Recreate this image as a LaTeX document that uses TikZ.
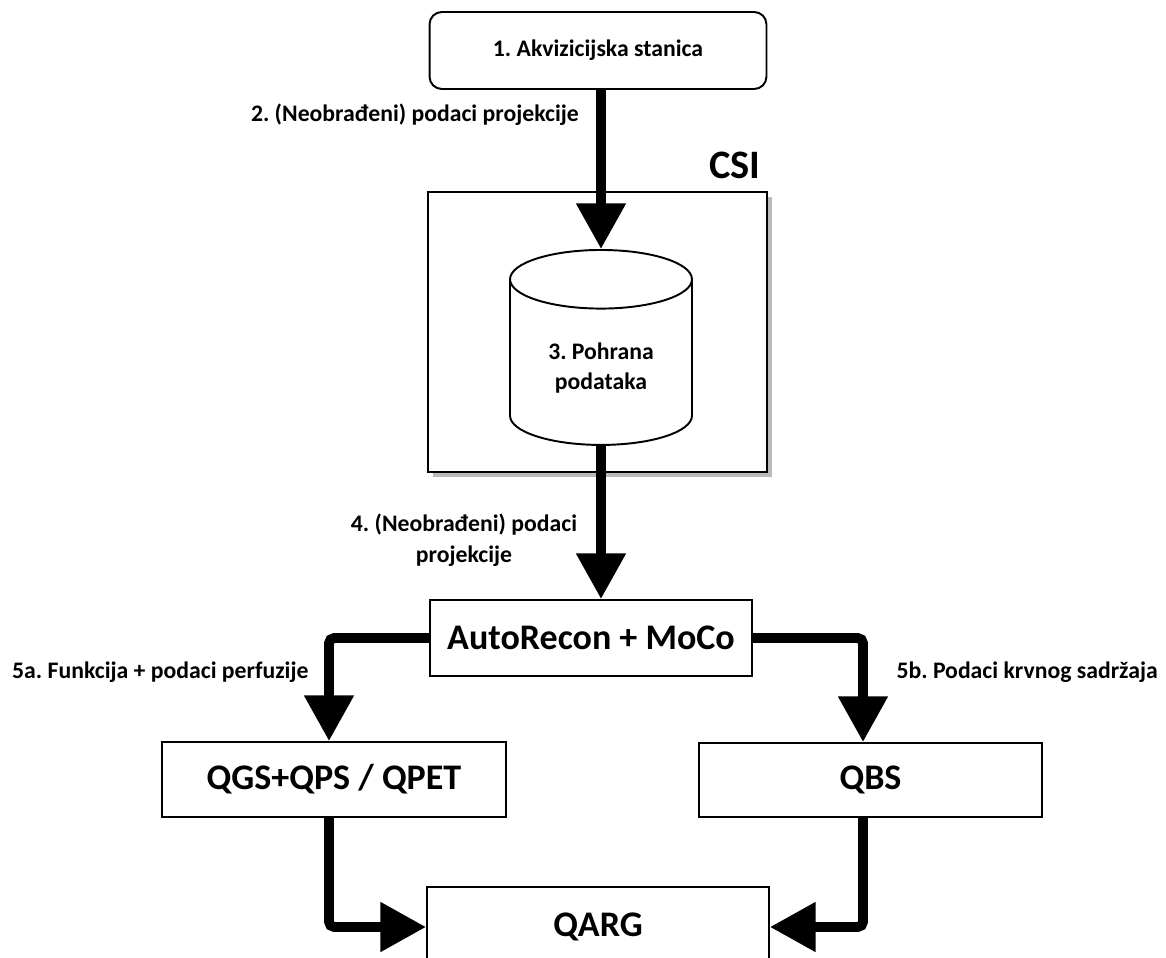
\documentclass[tikz,border=0pt]{standalone}
\usepackage{fontspec}
\setmainfont{Carlito}
\usetikzlibrary{shapes.geometric,arrows.meta,shadows}
\frenchspacing
\begin{document}
\begin{tikzpicture}[
    x=0.02cm, y=-0.02cm,
    stage/.style={draw, line width=1.1pt, rectangle, fill=white, font=\bfseries\fontsize{20.5}{24}\selectfont, align=center},
    station/.style={draw, line width=1.1pt, rectangle, rounded corners=7pt, fill=white, font=\bfseries\fontsize{13.5}{16}\selectfont, minimum width=6.74cm, minimum height=1.54cm},
    store/.style={draw, line width=1.1pt, cylinder, shape border rotate=90, aspect=0.5, fill=white, font=\bfseries\fontsize{13.5}{17}\selectfont, align=center, minimum width=3.64cm, minimum height=3.9cm},
    lbl/.style={font=\bfseries\fontsize{13.5}{17.5}\selectfont, align=center},
    flow/.style={line width=5.6pt, -{Triangle[width=27pt,length=26pt]}, rounded corners=3pt}
]
\clip (0,0) rectangle (1166,957);
\fill[white] (0,0) rectangle (1166,957);

% Akvizicija
\node[station] (acq) at (598, 50.5) {1. Akvizicijska stanica};

% CSI
\node[draw, line width=1.1pt, fill=white, minimum width=6.78cm, minimum height=5.6cm,
      drop shadow={shadow xshift=3pt, shadow yshift=-3pt, fill=black!45, opacity=0.6}] (csi) at (597.5, 332) {};
\node[font=\bfseries\fontsize{23}{27}\selectfont, anchor=base east, inner sep=0pt] (csilbl) at (761, 178) {CSI};
\node[store, anchor=north] (db) at (601, 249) {3. Pohrana\\podataka};

\node[stage, minimum width=6.44cm, minimum height=1.52cm] (recon) at (591, 638) {AutoRecon + MoCo};
\node[stage, minimum width=6.88cm, minimum height=1.5cm] (qgs) at (334, 779.5) {QGS+QPS / QPET};
\node[stage, minimum width=6.86cm, minimum height=1.48cm] (qbs) at (870.5, 780) {QBS};
\node[stage, minimum width=6.84cm, minimum height=1.6cm] (qarg) at (598, 927) {QARG};

% Tokovi
\draw[flow] (acq.south -| db.north) -- (db.north);
\draw[flow] (db.south) -- (recon.north -| db.south);
\draw[flow] (recon.west) -| ([xshift=-0.1cm]qgs.north);
\draw[flow] (recon.east) -| ([xshift=-0.15cm]qbs.north);
\draw[flow] ([xshift=-0.1cm]qgs.south) |- (qarg.west);
\draw[flow] ([xshift=-0.15cm]qbs.south) |- (qarg.east);

\node[lbl, anchor=east] (l2) at (585, 115) {2. (Neobrađeni) podaci projekcije};
\node[lbl] (l4) at (464, 540) {4. (Neobrađeni) podaci\\projekcije};
\node[lbl, anchor=west] (l5a) at (6, 672) {5a. Funkcija + podaci perfuzije};
\node[lbl, anchor=east] (l5b) at (1164, 672) {5b. Podaci krvnog sadržaja};
\end{tikzpicture}
\end{document}
